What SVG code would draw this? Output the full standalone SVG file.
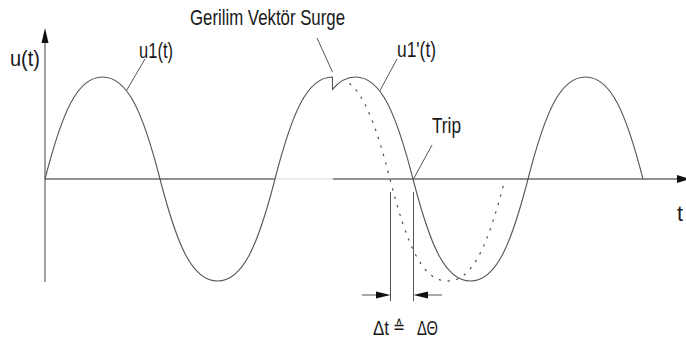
<svg xmlns="http://www.w3.org/2000/svg" width="686" height="347" viewBox="0 0 686 347">
<style>
.ax{stroke:#6e6e6e;stroke-width:1.3;fill:none}
.cv{stroke:#555;stroke-width:1.1;fill:none}
.dt{stroke:#555;stroke-width:1.3;fill:none;stroke-dasharray:1.3 7.5;stroke-linecap:round}
.ld{stroke:#555;stroke-width:1;fill:none}
.hd{fill:#111;stroke:none}
.tx{font-family:"Liberation Sans",Arial,sans-serif;fill:#1a1a1a}
</style>
<rect width="686" height="347" fill="#fff"/>
<g id="axes">
<line class="ax" x1="45" y1="282" x2="45" y2="42"/>
<polygon class="hd" points="45,28 41.5,43 48.5,43"/>
<line class="ax" x1="45" y1="179" x2="275" y2="179"/>
<line x1="275" y1="179" x2="333" y2="179" stroke="#e6e6e6" stroke-width="1.3"/>
<line class="ax" x1="333" y1="179" x2="678" y2="179"/>
<polygon class="hd" points="690,179 677,175 677,183"/>
</g>
<g id="curves">
<path id="u1-solid" class="cv" d="M45,179 C62,113 77,77 102.5,77 C128,77 143,113 160,179 C177,245 192,281 217.5,281 C243,281 258,245 275,179 C292,113 307,77 332.5,77 L332.5,89.4 C339.29,81.21 346.78,77 355.5,77 C381,77 396,113 413,179 C430,245 445,281 470.5,281 C496,281 511,245 528,179 C545,113 560,77 585.5,77 C611,77 626,113 643,179"/>
<path id="u1-dotted" class="dt" d="M349.85,83.66 C365.63,96.88 377.25,129.5 390,179 C407,245 422,281 447.5,281 C473,281 488,245 505,179"/>
</g>
<g id="connectors">
<line class="ld" x1="317" y1="38" x2="332.5" y2="72"/>
<line class="ld" x1="145" y1="59" x2="126.5" y2="90.5"/>
<line class="ld" x1="397" y1="59" x2="380" y2="90.5"/>
<line class="ld" x1="432" y1="145" x2="413.5" y2="179"/>
<line class="ld" x1="390.5" y1="192" x2="390.5" y2="301"/>
<line class="ld" x1="413.5" y1="192" x2="413.5" y2="301"/>
<line class="ld" x1="362" y1="295" x2="380" y2="295"/>
<polygon class="hd" points="390.5,295 376,291.5 376,298.5"/>
<line class="ld" x1="442" y1="295" x2="424" y2="295"/>
<polygon class="hd" points="413.5,295 428,291.5 428,298.5"/>
</g>
<g id="labels">
<text id="lbl-surge" class="tx" x="190" y="25" font-size="21.5" textLength="155" lengthAdjust="spacingAndGlyphs">Gerilim Vektör Surge</text>
<text id="lbl-ut" class="tx" x="10" y="66" font-size="21.5" textLength="30" lengthAdjust="spacingAndGlyphs">u(t)</text>
<text id="lbl-u1" class="tx" x="139" y="58" font-size="21.5" textLength="34" lengthAdjust="spacingAndGlyphs">u1(t)</text>
<text id="lbl-u1p" class="tx" x="397" y="57" font-size="21.5" textLength="39" lengthAdjust="spacingAndGlyphs">u1'(t)</text>
<text id="lbl-trip" class="tx" x="432" y="133" font-size="21.5" textLength="29" lengthAdjust="spacingAndGlyphs">Trip</text>
<text id="lbl-t" class="tx" x="677" y="221" font-size="21.5">t</text>
<text id="lbl-dt" class="tx" x="373" y="335" font-size="19.5" textLength="16" lengthAdjust="spacingAndGlyphs">Δt</text>
<text id="lbl-eq" x="393" y="333" font-size="18" font-family="'DejaVu Sans',sans-serif" fill="#1a1a1a" textLength="12" lengthAdjust="spacingAndGlyphs">≙</text>
<text id="lbl-dth" class="tx" x="417" y="335" font-size="19.5" textLength="21" lengthAdjust="spacingAndGlyphs">ΔΘ</text>
</g>
</svg>
